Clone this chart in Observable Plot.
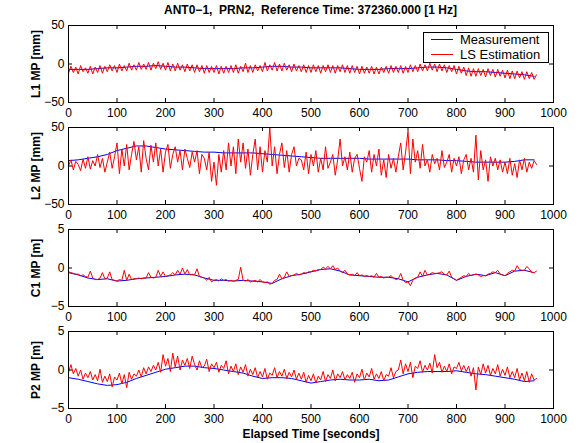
<!DOCTYPE html>
<html><head><meta charset="utf-8">
<script src="https://cdn.jsdelivr.net/npm/d3@7"></script>
<script src="https://cdn.jsdelivr.net/npm/@observablehq/plot@0.6"></script>
<style>
body{margin:0;background:#fff;font-family:"Liberation Sans",Arial,sans-serif;}
#wrap{position:relative;width:579px;height:443px;overflow:hidden;background:#fff;}
#wrap svg{position:absolute;left:0;}
.title{position:absolute;top:3px;left:68px;width:485px;text-align:center;font-weight:bold;font-size:12px;line-height:14px;white-space:pre;color:#000;}
.legend{position:absolute;left:423px;top:32px;width:124px;height:29px;border:1px solid #000;background:#fff;z-index:5;}
.legend .ln{position:absolute;left:7px;width:22px;height:0;border-top:1px solid;}
.legend .tx{position:absolute;left:36px;font-size:13px;line-height:15px;color:#000;white-space:nowrap;}
</style>
</head><body>
<div id="wrap">
<div class="title">ANT0−1,  PRN2,  Reference Time: 372360.000 [1 Hz]</div>
<div class="legend">
  <div class="ln" style="top:6px;border-color:#0000ff"></div><div class="tx" style="top:-1px">Measurement</div>
  <div class="ln" style="top:21px;border-color:#ff0000"></div><div class="tx" style="top:14px">LS Estimation</div>
</div>
</div>
<script>
// time axes (seconds)
const tBlue = d3.range(0, 961, 20);
const tRed = d3.range(0, 966, 5);
const xTicks = [0,100,200,300,400,500,600,700,800,900,1000];
const yLabels = ["L1 MP [mm]", "L2 MP [mm]", "C1 MP [m]", "P2 MP [m]"];
const yTicksMM = [-50, 0, 50];
const yTicksM = [-5, 0, 5];

// Measurement (blue), every 20 s
const l1Meas = [-7,-7,-7,-6,-5,-5,-4,-3,-3,-2,-3,-4,-4,-5,-6,-6,-6,-6,-5,-5,-4,-3,-3,-4,-4,-5,-5,-5,-5,-6,-7,-7,-7,-6,-6,-6,-5,-4,-4,-5,-7,-9,-10,-10,-11,-12,-13,-14,-16];
const l2Meas = [7,8,10,12,15,20,23,26,26,24,22,21,20,19,18,18,17,17,17,17,16,15,14,13,12,11,10,10,10,10,10,9,9,9,9,9,8,8,8,7,7,6,5,5,5,5,6,8,8];
const c1Meas = [-0.6,-0.9,-1.3,-1.5,-1.4,-1.7,-1.6,-1.4,-1.3,-1.2,-1.1,-0.9,-0.8,-0.9,-1.3,-1.6,-1.6,-1.7,-1.6,-1.7,-1.8,-2.0,-1.4,-1.0,-0.8,-0.5,-0.2,-0.1,-0.4,-0.9,-1.0,-1.1,-1.2,-1.2,-1.4,-1.8,-1.2,-0.9,-0.7,-0.9,-1.6,-1.1,-0.8,-1.0,-0.6,-1.0,-0.4,-0.3,-0.6];
const p2Meas = [-1.0,-1.2,-1.5,-1.8,-2.0,-1.9,-1.6,-1.1,-0.7,-0.3,0.1,0.3,0.5,0.5,0.3,0.2,0.0,-0.2,-0.4,-0.8,-1.1,-1.0,-1.0,-1.1,-1.4,-1.7,-1.5,-1.3,-1.2,-1.3,-1.3,-1.2,-1.4,-1.3,-0.9,-0.5,-0.3,-0.2,-0.2,-0.2,-0.1,-0.3,-0.5,-0.6,-0.8,-1.0,-1.2,-1.5,-1.4];

// LS Estimation (red), every 5 s
const l1Est = [
-12,-3,-11,-4,-13,-2,-10,-5, -12,-3,-13,-4,-11,-2,-12,-3, -10,-1,-9,-2,-11,0,-9,-2, -9,1,-8,-1,-8,2,-7,0,
-7,2,-8,1,-6,3,-7,1, -8,2,-9,0,-9,1,-8,-1, -10,0,-9,-1,-11,-1,-10,-2, -12,-2,-11,-3,-11,-2,-13,-3,
-12,-3,-11,-2,-11,-1,-12,-3, -10,1,-11,-2,-11,-1,-9,-2, -10,2,-9,-1,-8,2,-9,0, -9,1,-8,-1,-10,0,-9,-2,
-10,-1,-11,-2,-11,-1,-10,-2, -12,-2,-10,-1,-11,-2,-12,-2, -10,-1,-11,-2,-12,-2,-11,-3, -13,-3,-12,-4,-12,-3,-13,-4,
-13,-4,-11,-3,-12,-2,-11,-3, -11,-2,-12,-3,-11,-1,-10,-2, -10,0,-9,-1,-9,1,-8,0, -10,0,-9,-1,-11,-2,-10,-2,
-13,-3,-12,-4,-15,-5,-16,-6, -16,-6,-15,-7,-17,-6,-15,-7, -17,-7,-16,-8,-18,-8,-19,-9, -19,-9,-18,-10,-20,-10,-19,-11,
-20,-14];
const l2Est = [
0,8,-5,6,2,-6,9,-3, 12,-4,7,0,15,-2,10,-8, 5,18,-3,12,30,-10,22,0, 28,-5,15,32,8,25,-8,33,
10,-5,27,5,30,0,22,-8, 18,28,-3,15,25,5,20,-5, 22,10,-2,18,5,20,-10,15, 10,-5,18,-20,5,-25,15,-8,
20,-5,30,0,25,-10,35,5, 30,-3,22,-12,15,35,-5,25, -8,20,5,50,0,25,-10,15, 30,-2,20,-8,15,25,0,10,
8,-5,18,-10,15,0,20,-8, 10,-5,25,-3,5,15,-12,8, 35,0,12,-5,18,-8,10,15, -3,-20,12,5,20,-8,15,0,
22,-12,8,-15,15,-3,10,-8, 12,30,-5,18,45,-10,35,5, 20,-3,28,0,8,-8,15,3, 10,-5,20,-2,5,15,-8,10,
0,12,-10,8,15,-5,10,-8, 40,-18,20,-5,8,-20,12,0, 10,-5,8,-8,5,-10,10,-12, 3,-15,8,-5,10,-8,5,-3,
7,2];
const c1Est = [
-0.5,-0.6,-0.7,-0.8,-0.8,-1.0,-0.9,-1.1, -1.2,-0.4,-1.3,-1.5,-1.5,-1.3,-0.6,-1.4, -1.3,-0.5,-1.5,-1.6,-1.7,-1.5,-1.6,-0.3, -1.6,-0.8,-1.5,-1.4,-1.4,-1.3,-1.4,-1.3,
-1.3,-0.6,-1.2,-1.3,-1.2,-0.3,-1.1,-0.5, -1.1,-1.0,-0.9,-0.6,-0.9,-0.3,-0.8,0.0, -0.8,-0.2,-0.9,-0.8,-0.9,-0.1,-1.1,-1.2, -1.3,-1.6,-1.2,-1.8,-1.6,-1.5,-1.7,-1.4,
-1.6,-1.5,-1.7,-1.6,-1.7,-1.6,-1.5,0.1, -1.6,-1.7,-1.5,-1.8,-1.7,-1.6,-1.8,-1.5, -1.8,-1.9,-1.8,-2.1,-2.0,-1.6,-1.5,-0.8, -1.4,-1.2,-0.5,-1.1,-1.0,-0.9,-0.7,-0.9,
-0.8,-0.6,-0.7,-0.5,-0.5,-0.3,-0.4,-0.2, -0.2,0.1,-0.1,0.2,-0.1,0.3,-0.2,0.0, -0.4,-0.6,-0.3,-0.8,-0.9,-0.8,-1.0,-0.6, -1.0,-0.9,-1.1,-1.0,-1.1,-1.0,-1.2,-0.7,
-1.2,-1.1,-1.3,-1.2,-1.2,-1.0,-1.3,-1.5, -1.4,-0.7,-1.6,-1.9,-1.8,-2.3,-1.6,-1.3, -1.2,-0.5,-1.1,-0.3,-0.9,-0.8,-0.6,-0.7, -0.7,-0.6,-0.5,-0.8,-0.9,-0.4,-1.2,-1.4,
-1.6,-1.4,-1.2,-1.0,-1.1,-0.7,-1.0,-0.9, -0.8,-0.9,-1.1,-1.0,-1.0,-0.8,-0.7,-0.5, -0.6,-0.3,-0.8,-0.9,-1.0,-0.7,-0.5,-0.3, -0.4,0.3,-0.2,-0.3,-0.3,0.2,-0.1,-0.6,
-0.6,-0.4];
const p2Est = [
-0.3,0.7,-0.5,0.2,-0.8,0.0,-1.2,-0.4, -1.0,-0.2,-1.3,-0.6,-1.4,0.1,-1.6,-0.8, -1.5,-0.5,-2.2,-0.9,-1.3,-0.4,-1.8,-0.6, -2.3,-0.3,-1.2,-0.5,-0.8,0.0,-0.9,0.3,
-0.5,0.4,-0.2,0.6,0.0,1.0,-0.3,2.0, 0.5,1.5,-0.2,2.2,0.4,1.8,0.0,1.3, 0.6,1.5,0.2,1.8,0.7,0.0,1.2,0.3, 0.5,1.4,-0.2,0.8,0.3,1.0,-0.3,0.6,
0.2,1.2,-0.5,0.5,-0.2,0.8,-0.6,0.4, -0.3,0.7,-0.8,0.1,-0.6,0.3,-1.0,-0.2, -0.9,0.2,-1.2,-0.4,-0.7,0.3,-1.0,-0.2, -0.8,0.1,-1.1,-0.3,-0.9,0.0,-1.2,-0.4,
-1.2,-0.3,-1.6,-0.7,-1.4,-0.5,-1.7,-0.8, -1.3,-0.2,-1.5,-0.6,-1.1,0.0,-1.4,-0.5, -1.0,-0.2,-1.3,-0.6,-1.1,-0.3,-1.6,-0.5, -1.0,0.1,-1.3,-0.4,-0.9,0.2,-1.2,-0.5,
-1.1,-0.2,-1.4,-0.6,-0.8,0.3,-1.0,-0.2, 0.0,1.3,-0.5,0.8,-0.2,1.0,-1.0,0.5, 0.2,1.2,-0.3,0.6,0.0,0.9,-0.4,2.0, 0.3,1.0,-0.3,0.5,-0.2,0.8,-0.5,0.4,
0.2,1.0,-0.1,0.6,-0.2,0.5,-0.8,0.3, -2.6,0.4,-0.6,0.8,-0.4,0.6,-0.7,0.2, -0.5,0.7,-0.8,0.1,-0.7,0.4,-1.0,-0.2, -1.0,0.2,-1.3,-0.4,-1.4,-0.2,-1.6,-0.5,
-1.3,-1.1];

const panels = [
  {label: yLabels[0], dom: [-50, 50], ticks: yTicksMM, meas: l1Meas, est: l1Est},
  {label: yLabels[1], dom: [-50, 50], ticks: yTicksMM, meas: l2Meas, est: l2Est},
  {label: yLabels[2], dom: [-5, 5], ticks: yTicksM, meas: c1Meas, est: c1Est},
  {label: yLabels[3], dom: [-5, 5], ticks: yTicksM, meas: p2Meas, est: p2Est}
];

const wrap = document.getElementById("wrap");
const FONT = "'Liberation Sans', Arial, Helvetica, sans-serif";
panels.forEach((p, i) => {
  const last = i === panels.length - 1;
  const H = last ? 137 : 125;
  const mTop = 25, frameH = 77;
  const blue = tBlue.map((t, k) => ({t, v: p.meas[k]}));
  const red = tRed.map((t, k) => ({t, v: p.est[k]}));
  const svg = Plot.plot({
    width: 579, height: H,
    marginLeft: 68, marginRight: 26, marginTop: mTop, marginBottom: H - mTop - frameH,
    style: {background: "transparent", fontFamily: FONT, fontSize: "12px", color: "#000", overflow: "visible"},
    x: {domain: [0, 1000], ticks: xTicks, tickSize: 0, tickPadding: 6, tickFormat: d3.format("d"), label: null},
    y: {domain: p.dom, ticks: p.ticks, tickSize: 0, tickPadding: 4, label: null},
    marks: [
      Plot.line(blue, {x: "t", y: "v", stroke: "#0000ff", strokeWidth: 1}),
      Plot.line(red, {x: "t", y: "v", stroke: "#ff0000", strokeWidth: 1}),
      Plot.tickX(xTicks, {x: d => d, insetTop: frameH - 4, stroke: "#000"}),
      Plot.tickX(xTicks, {x: d => d, insetBottom: frameH - 4, stroke: "#000"}),
      Plot.tickY(p.ticks, {y: d => d, insetRight: 481, stroke: "#000"}),
      Plot.tickY(p.ticks, {y: d => d, insetLeft: 481, stroke: "#000"}),
      Plot.frame({stroke: "#000", strokeWidth: 1}),
      Plot.text([p.label], {frameAnchor: "left", textAnchor: "middle", lineAnchor: "middle", text: d => d, rotate: -90, dx: -32, fontWeight: "bold", fontSize: 12, fill: "#000"}),
      last ? Plot.text(["Elapsed Time [seconds]"], {frameAnchor: "bottom", textAnchor: "middle", lineAnchor: "middle", text: d => d, dy: 26, fontWeight: "bold", fontSize: 12, fill: "#000"}) : null
    ]
  });
  svg.style.top = (102 * i) + "px";
  wrap.appendChild(svg);
});
</script>
</body></html>
